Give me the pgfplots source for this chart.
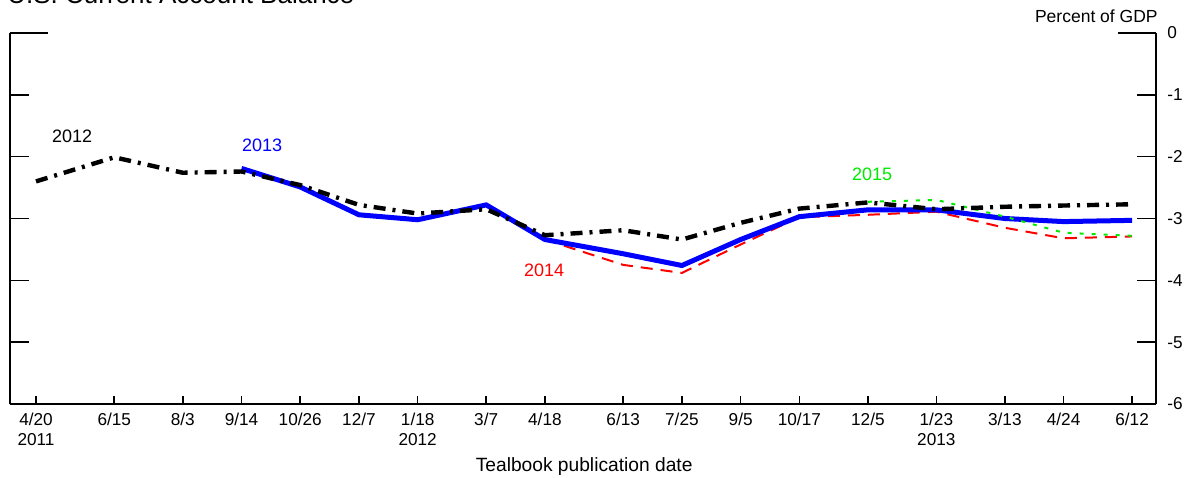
\documentclass[border=0pt]{standalone}
\usepackage{fontspec}
\setmainfont{Liberation Sans}
\usepackage{pgfplots}
\pgfplotsset{compat=1.18}

\definecolor{tbblue}{RGB}{0,0,255}
\definecolor{tbred}{RGB}{255,0,0}
\definecolor{tbgreen}{RGB}{0,235,0}

% x = days after 20 Apr 2011 (Tealbook date)
\begin{document}
\begin{tikzpicture}
\begin{axis}[
  scale only axis,
  width=573pt, height=185.5pt,
  xmin=-18.6, xmax=801.1,
  ymin=-6, ymax=0,
  axis x line*=bottom,
  axis y line*=box,
  yticklabel pos=right,
  tick align=inside,
  axis line style={line width=0.9pt},
  every tick/.style={black, line width=0.8pt},
  xtick={0,56,105,147,189,231,273,322,364,420,462,504,546,595,644,693,735,784},
  xticklabels={4/20\\2011,6/15,8/3,9/14,10/26,12/7,1/18\\2012,3/7,4/18,6/13,7/25,9/5,10/17,12/5,1/23\\2013,3/13,4/24,6/12},
  xtick style={/pgfplots/major tick length=4pt},
  ytick={-6,-5,-4,-3,-2,-1,0},
  yticklabels={-6,-5,-4,-3,-2,-1,0},
  ytick style={/pgfplots/major tick length=9.5pt},
  xticklabel style={align=center, inner sep=0pt, anchor=north, yshift=-4.5pt,
    font=\fontsize{8.6}{10}\selectfont},
  yticklabel style={inner sep=0pt, anchor=west, xshift=5.5pt,
    font=\fontsize{8.6}{10}\selectfont},
  xlabel={Tealbook publication date},
  xlabel style={at={(axis description cs:0.501,0)}, anchor=base, yshift=-33.5pt,
    inner sep=0pt, font=\fontsize{9.6}{11}\selectfont},
]

% forecasts for 2014 (red, dashed)
\addplot[tbred, line width=1pt, dash pattern=on 6pt off 4pt] coordinates {
  (364,-3.34) (420,-3.75) (462,-3.88) (504,-3.42) (546,-2.98)
  (595,-2.94) (644,-2.89) (693,-3.15) (735,-3.32) (784,-3.29)
};

% forecasts for 2013 (blue, solid)
\addplot[tbblue, line width=2.5pt] coordinates {
  (147,-2.19) (189,-2.49) (231,-2.94) (273,-3.02) (322,-2.78)
  (364,-3.34) (420,-3.57) (462,-3.76) (504,-3.34) (546,-2.97)
  (595,-2.86) (644,-2.86) (693,-3.00) (735,-3.05) (784,-3.03)
};

% forecasts for 2015 (green, dotted)
\addplot[tbgreen, line width=1pt, dash pattern=on 2pt off 4pt] coordinates {
  (595,-2.73) (644,-2.70) (693,-2.97) (735,-3.23) (784,-3.28)
};

% forecasts for 2012 (black, dash-dot)
\addplot[black, line width=2.2pt, dash pattern=on 6pt off 3.5pt on 1.5pt off 3.5pt] coordinates {
  (0,-2.40) (56,-2.01) (105,-2.26) (147,-2.24) (189,-2.46) (231,-2.78)
  (273,-2.92) (322,-2.85) (364,-3.27) (420,-3.19) (462,-3.34) (504,-3.07)
  (546,-2.84) (595,-2.74) (644,-2.85) (693,-2.81) (735,-2.79) (784,-2.77)
};

\node[font=\fontsize{9}{11}\selectfont, black] at (axis cs:25.8,-1.67) {2012};
\node[font=\fontsize{9}{11}\selectfont, tbblue] at (axis cs:161.7,-1.81) {2013};
\node[font=\fontsize{9}{11}\selectfont, tbred] at (axis cs:363.4,-3.83) {2014};
\node[font=\fontsize{9}{11}\selectfont, tbgreen] at (axis cs:598,-2.29) {2015};
\end{axis}

% longer top ticks at 0
\draw[line width=0.9pt] (0,185.5pt) -- ++(19pt,0);
\draw[line width=0.9pt] (573pt,185.5pt) -- ++(-19pt,0);

\node[anchor=base west, inner sep=0pt, font=\fontsize{13}{15}\selectfont]
  at (-1.5pt,200pt) {U.S. Current Account Balance};
\node[anchor=base east, inner sep=0pt, font=\fontsize{8.75}{10}\selectfont]
  at (574pt,190.5pt) {Percent of GDP};

\pgfresetboundingbox
\path[use as bounding box] (-5pt,-36.5pt) rectangle (589pt,202pt);
\end{tikzpicture}
\end{document}
